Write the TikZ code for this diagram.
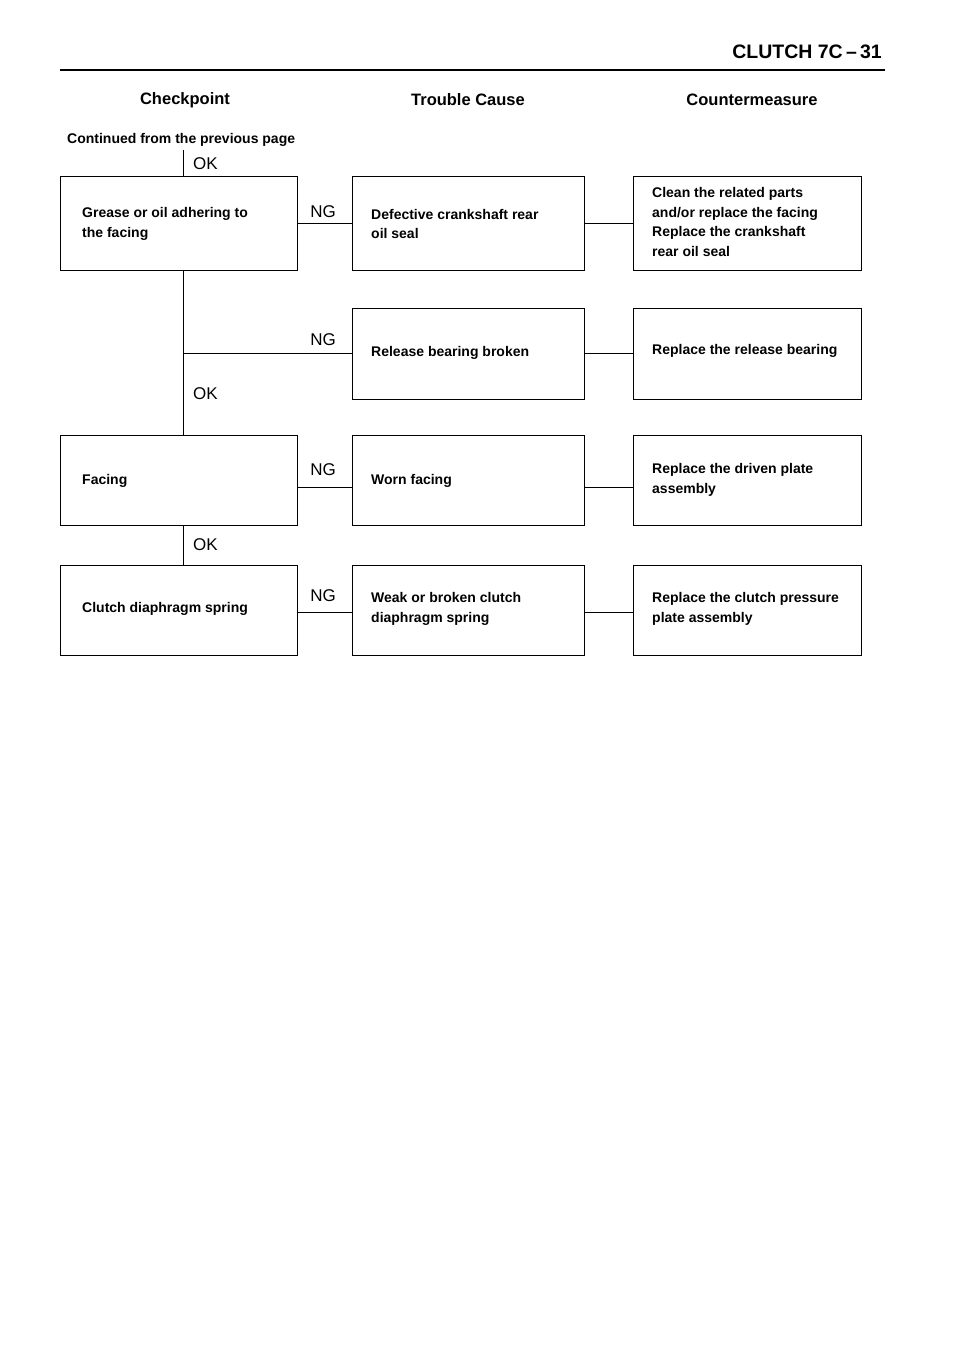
\documentclass[tikz,border=0pt]{standalone}
\usepackage{fontspec}
\setmainfont{Liberation Sans}
\begin{document}
\begin{tikzpicture}[x=1pt,y=-1pt,
 bx/.style={draw,line width=1pt,anchor=north west,inner sep=0pt},
 t/.style={font=\bfseries\fontsize{14}{19.5}\selectfont,align=left,anchor=west,inner sep=0pt},
 hd/.style={font=\bfseries\fontsize{16.5}{19}\selectfont,inner sep=0pt},
 lbl/.style={font=\fontsize{17}{18}\selectfont,inner sep=0pt},
 ln/.style={line width=1pt}]
\useasboundingbox (0,0) rectangle (960,1356);
\draw[line width=2.5pt] (60,70) -- (885,70);
\node[font=\bfseries\fontsize{19.5}{20}\selectfont,anchor=east,inner sep=0pt] (hdr) at (882,52) {CLUTCH 7C\,--\,31};
\node[hd] (h1) at (185,100) {Checkpoint};
\node[hd] (h2) at (468,100) {Trouble Cause};
\node[hd] (h3) at (752,100) {Countermeasure};
\node[t] (cont) at (67,140) {Continued from the previous page};
% boxes
\node[bx,minimum width=237pt,minimum height=94pt] (c1) at (60,176) {};
\node[bx,minimum width=232pt,minimum height=94pt] (r1) at (352,176) {};
\node[bx,minimum width=228pt,minimum height=94pt] (m1) at (633,176) {};
\node[bx,minimum width=232pt,minimum height=91pt] (r2) at (352,308) {};
\node[bx,minimum width=228pt,minimum height=91pt] (m2) at (633,308) {};
\node[bx,minimum width=237pt,minimum height=90pt] (c3) at (60,435) {};
\node[bx,minimum width=232pt,minimum height=90pt] (r3) at (352,435) {};
\node[bx,minimum width=228pt,minimum height=90pt] (m3) at (633,435) {};
\node[bx,minimum width=237pt,minimum height=90pt] (c4) at (60,565) {};
\node[bx,minimum width=232pt,minimum height=90pt] (r4) at (352,565) {};
\node[bx,minimum width=228pt,minimum height=90pt] (m4) at (633,565) {};
% texts
\node[t] (tc1) at (82,224) {Grease or oil adhering to\\the facing};
\node[t] (tr1) at (371,224) {Defective crankshaft rear\\oil seal};
\node[t] (tm1) at (652,222) {Clean the related parts\\and/or replace the facing\\Replace the crankshaft\\rear oil seal};
\node[t] (tr2) at (371,353) {Release bearing broken};
\node[t] (tm2) at (652,351) {Replace the release bearing};
\node[t] (tc3) at (82,481) {Facing};
\node[t] (tr3) at (371,481) {Worn facing};
\node[t] (tm3) at (652,480) {Replace the driven plate\\assembly};
\node[t] (tc4) at (82,609) {Clutch diaphragm spring};
\node[t] (tr4) at (371,609) {Weak or broken clutch\\diaphragm spring};
\node[t] (tm4) at (652,609) {Replace the clutch pressure\\plate assembly};
% vertical flow
\coordinate (top) at (183,150);
\coordinate (j2) at (183,353);
\draw[ln] (top) -- (c1.north west -| top);
\node[lbl,anchor=west] (ok0) at (193,164) {OK};
\draw[ln] (c1.south west -| top) -- (c3.north west -| top);
\draw[ln] (j2) -- (j2 -| r2.west);
\node[lbl] (ng2) at (323,340) {NG};
\node[lbl,anchor=west] (ok2) at (193,394) {OK};
\draw[ln] (c3.south west -| top) -- (c4.north west -| top);
\node[lbl,anchor=west] (ok3) at (193,545) {OK};
% NG connectors
\foreach \c/\r/\m/\y in {c1/r1/m1/224,c3/r3/m3/487,c4/r4/m4/612}{
 \draw[ln] (\c.east |- 0,\y) -- (\r.west |- 0,\y);
 \draw[ln] (\r.east |- 0,\y) -- (\m.west |- 0,\y);
}
\draw[ln] (r2.east |- j2) -- (m2.west |- j2);
\node[lbl] (ng1) at (323,212) {NG};
\node[lbl] (ng3) at (323,470) {NG};
\node[lbl] (ng4) at (323,596) {NG};
\end{tikzpicture}
\end{document}
